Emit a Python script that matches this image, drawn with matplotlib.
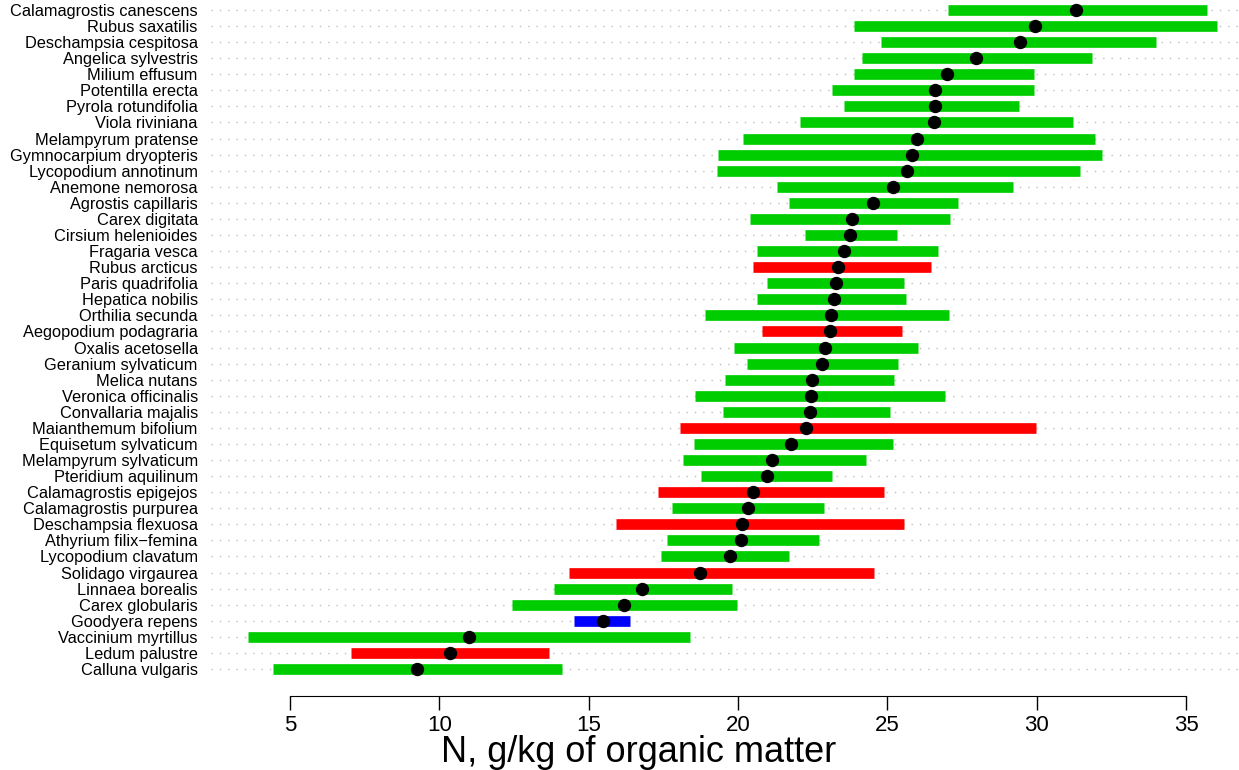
import numpy as np
import matplotlib
matplotlib.use("Agg")
import matplotlib.pyplot as plt

plt.rcParams['font.family'] = ['Liberation Sans', 'DejaVu Sans']

# species, top to bottom
species = ["Calamagrostis canescens", "Rubus saxatilis", "Deschampsia cespitosa",
           "Angelica sylvestris", "Milium effusum", "Potentilla erecta",
           "Pyrola rotundifolia", "Viola riviniana", "Melampyrum pratense",
           "Gymnocarpium dryopteris", "Lycopodium annotinum", "Anemone nemorosa",
           "Agrostis capillaris", "Carex digitata", "Cirsium helenioides",
           "Fragaria vesca", "Rubus arcticus", "Paris quadrifolia",
           "Hepatica nobilis", "Orthilia secunda", "Aegopodium podagraria",
           "Oxalis acetosella", "Geranium sylvaticum", "Melica nutans",
           "Veronica officinalis", "Convallaria majalis", "Maianthemum bifolium",
           "Equisetum sylvaticum", "Melampyrum sylvaticum", "Pteridium aquilinum",
           "Calamagrostis epigejos", "Calamagrostis purpurea", "Deschampsia flexuosa",
           "Athyrium filix\u2212femina", "Lycopodium clavatum", "Solidago virgaurea",
           "Linnaea borealis", "Carex globularis", "Goodyera repens",
           "Vaccinium myrtillus", "Ledum palustre", "Calluna vulgaris"]

low = [27.04, 23.87, 24.80, 24.16, 23.87, 23.14, 23.54, 22.08, 20.16, 19.34,
       19.29, 21.29, 21.71, 20.40, 22.25, 20.65, 20.50, 20.96, 20.65, 18.89,
       20.82, 19.87, 20.30, 19.57, 18.55, 19.50, 18.05, 18.53, 18.15, 18.77,
       17.32, 17.78, 15.90, 17.62, 17.42, 14.34, 13.84, 12.42, 14.50, 3.61,
       7.05, 4.44]

high = [35.70, 36.04, 33.99, 31.85, 29.92, 29.92, 29.39, 31.21, 31.94, 32.18,
        31.45, 29.20, 27.37, 27.11, 25.33, 26.71, 26.45, 25.55, 25.63, 27.05,
        25.48, 26.01, 25.37, 25.22, 26.94, 25.10, 29.98, 25.18, 24.29, 23.14,
        24.90, 22.88, 25.55, 22.72, 21.72, 24.55, 19.79, 19.96, 16.40, 18.38,
        13.68, 14.10]

mean = [31.30, 29.93, 29.45, 27.96, 27.00, 26.60, 26.60, 26.57, 25.99, 25.81,
        25.67, 25.18, 24.52, 23.80, 23.76, 23.56, 23.35, 23.29, 23.20, 23.12,
        23.08, 22.90, 22.81, 22.48, 22.44, 22.40, 22.27, 21.76, 21.15, 20.96,
        20.51, 20.33, 20.12, 20.10, 19.73, 18.73, 16.79, 16.17, 15.47, 11.01,
        10.36, 9.25]

group = ["g"] * len(species)
for s in ["Rubus arcticus", "Aegopodium podagraria", "Maianthemum bifolium",
          "Calamagrostis epigejos", "Deschampsia flexuosa", "Solidago virgaurea",
          "Ledum palustre"]:
    group[species.index(s)] = "r"
group[species.index("Goodyera repens")] = "b"
colours = {"g": "#00CD00", "r": "#FF0000", "b": "#0000FF"}

ticks = [5, 10, 15, 20, 25, 30, 35]

fig = plt.figure(figsize=(12.39, 7.70), dpi=100)
ax = fig.add_axes([211 / 1239, 1 - 696 / 770, 1 - 211 / 1239, 696 / 770])

n = len(species)
ys = np.arange(n, 0, -1)

for y in ys:
    ax.axhline(y, color="#BEBEBE", lw=1, ls=(0, (1, 5)), zorder=1)

for i in range(n):
    ax.plot([low[i], high[i]], [ys[i], ys[i]], color=colours[group[i]],
            lw=7.7, solid_capstyle="butt", zorder=2)
ax.plot(mean, ys, "o", color="black", ms=8.6, zorder=3)

ax.set_xlim(2.36, 36.77)
ax.set_ylim(-0.68, 42.62)

ax.set_yticks(ys)
ax.set_yticklabels(species, fontsize=11.8)
ax.tick_params(axis="y", length=0, pad=9.5)

ax.set_xticks(ticks)
ax.set_xticklabels([str(t) for t in ticks], fontsize=16)
ax.tick_params(axis="x", length=10, width=1, pad=3.5)

for side in ["top", "right", "left"]:
    ax.spines[side].set_visible(False)
ax.spines["bottom"].set_bounds(5, 35)

# x label sits low, under the tick labels, as in the original
fig.text(441 / 1239, 1 - 753 / 770, "N, g/kg of organic matter",
         fontsize=26, ha="left", va="center")

fig.savefig("out.png", dpi=100)
